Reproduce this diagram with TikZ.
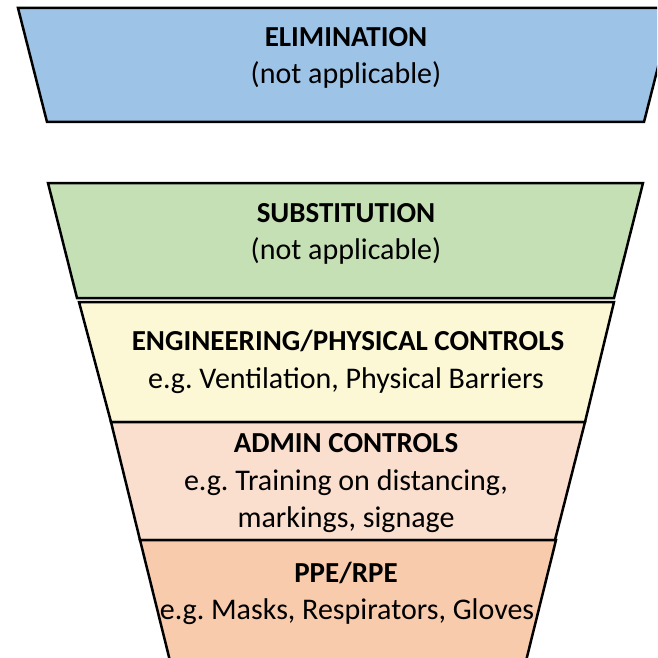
\documentclass[tikz,border=0pt]{standalone}
\usepackage{fontspec}
\setmainfont{Carlito}
\usepackage{xcolor}
\definecolor{elimblue}{HTML}{9DC3E6}
\definecolor{subsgreen}{HTML}{C5E0B4}
\definecolor{engyellow}{HTML}{FCF8D6}
\definecolor{adminpeach}{HTML}{FBDFCE}
\definecolor{ppeorange}{HTML}{F8CBAD}
\frenchspacing
\tikzset{
  level/.style={draw=black,line width=2.5pt,line join=miter},
  title/.style={draw=none,inner sep=0pt,anchor=base,font=\fontsize{29}{33}\selectfont\bfseries},
  detail/.style={draw=none,inner sep=0pt,anchor=base,font=\fontsize{30}{34}\selectfont}
}
\begin{document}
\begin{tikzpicture}[x=1pt,y=-1pt]
\useasboundingbox (0,0) rectangle (657,658);
\clip (0,0) rectangle (657,658);
% funnel levels
\filldraw[level,fill=elimblue] (18,8) -- (673,8) -- (644,122) -- (47,122) -- cycle;
\filldraw[level,fill=subsgreen] (48,183) -- (643,183) -- (614,298) -- (77,298) -- cycle;
\filldraw[level,fill=engyellow] (79,302) -- (614,302) -- (585,422) -- (111,422) -- cycle;
\filldraw[level,fill=adminpeach] (111,422) -- (585,422) -- (555,540) -- (140,540) -- cycle;
\filldraw[level,fill=ppeorange] (140,540) -- (556,540) -- (525,665) -- (171,665) -- cycle;
%
\node (l1) [title] at (346,47) {ELIMINATION};
\node (l1a) [detail] at (346,84) {(not applicable)};
\node (l2) [title] at (346,222) {SUBSTITUTION};
\node (l2a) [detail] at (346,259) {(not applicable)};
\node (l3) [title] at (348,350) {ENGINEERING/PHYSICAL CONTROLS};
\node (l3a) [detail] at (346,388) {e.g. Ventilation, Physical Barriers};
\node (l4) [title] at (346,452) {ADMIN CONTROLS};
\node (l4a) [detail] at (346,490) {e.g. Training on distancing,};
\node (l4b) [detail] at (346,527) {markings, signage};
\node (l5) [title] at (346,582) {PPE/RPE};
\node (l5a) [detail] at (347,619) {e.g. Masks, Respirators, Gloves};
\end{tikzpicture}
\end{document}
